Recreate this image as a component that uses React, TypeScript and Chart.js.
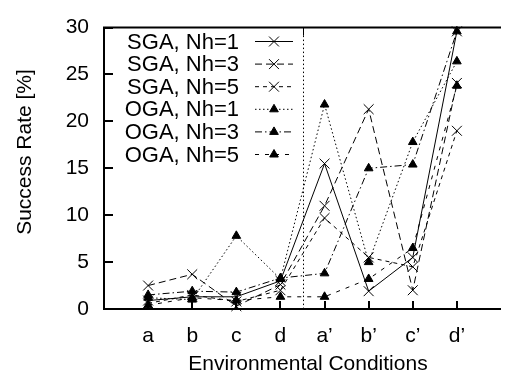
import React, { useEffect, useRef } from 'react';
import { Chart, registerables } from 'chart.js';

Chart.register(...registerables);

const categories = ['a', 'b', 'c', 'd', 'a’', 'b’', 'c’', 'd’'];
const yTickValues = [0, 5, 10, 15, 20, 25, 30];
const separatorAt = 4.5;

const sgaNh1 = [0.9, 1.3, 1.3, 3.0, 15.5, 1.9, 5.5, 29.6];
const sgaNh3 = [2.5, 3.7, 0.3, 2.6, 11.0, 21.3, 2.0, 24.1];
const sgaNh5 = [0.6, 1.5, 0.8, 2.0, 9.7, 5.5, 4.5, 19.0];
const ogaNh1 = [1.2, 1.0, 7.8, 3.2, 21.8, 5.0, 17.8, 26.4];
const ogaNh3 = [1.5, 1.9, 1.8, 3.3, 3.8, 15.0, 15.4, 29.6];
const ogaNh5 = [0.4, 1.2, 0.9, 1.3, 1.3, 3.2, 6.5, 23.8];

const FONT = 'Liberation Sans, Arial, Helvetica, sans-serif';

const pts = (arr: number[]) => arr.map((v, i) => ({ x: i + 1, y: v }));

function mk(label: string, data: number[], dash: number[], style: string) {
  const tri = style === 'triangle';
  return {
    label,
    data: pts(data),
    borderColor: '#000',
    backgroundColor: '#000',
    borderWidth: 1,
    borderDash: dash,
    pointStyle: style,
    pointRadius: tri ? 5 : 7,
    pointBorderWidth: 1,
    pointBackgroundColor: '#000',
    pointBorderColor: '#000',
    fill: false,
    tension: 0,
    clip: false,
  };
}

function drawMarker(ctx: CanvasRenderingContext2D, style: string, x: number, y: number) {
  ctx.save();
  ctx.setLineDash([]);
  ctx.lineWidth = 1;
  ctx.strokeStyle = '#000';
  ctx.fillStyle = '#000';
  if (style === 'triangle') {
    const r = 5;
    ctx.beginPath();
    for (let k = 0; k < 3; k++) {
      const a = (k * 2 * Math.PI) / 3;
      const px = x + Math.sin(a) * r;
      const py = y - Math.cos(a) * r;
      if (k === 0) ctx.moveTo(px, py);
      else ctx.lineTo(px, py);
    }
    ctx.closePath();
    ctx.fill();
    ctx.stroke();
  } else {
    const d = 7 * Math.SQRT1_2;
    ctx.beginPath();
    ctx.moveTo(x - d, y - d);
    ctx.lineTo(x + d, y + d);
    ctx.moveTo(x - d, y + d);
    ctx.lineTo(x + d, y - d);
    ctx.stroke();
  }
  ctx.restore();
}

const decorPlugin = {
  id: 'decor',
  beforeDatasetsDraw(chart: any) {
    const { ctx, chartArea, scales } = chart;
    const { top, bottom } = chartArea;
    const sx = Math.round(scales.x.getPixelForValue(separatorAt)) + 0.5;
    ctx.save();
    ctx.strokeStyle = '#000';
    ctx.lineWidth = 1;
    ctx.setLineDash([1.5, 2.5]);
    ctx.beginPath();
    ctx.moveTo(sx, top);
    ctx.lineTo(sx, bottom);
    ctx.stroke();
    ctx.setLineDash([]);
    ctx.beginPath();
    ctx.moveTo(sx, top);
    ctx.lineTo(sx, top + 8);
    ctx.stroke();
    ctx.restore();
  },
  afterDatasetsDraw(chart: any) {
    const { ctx, chartArea, scales } = chart;
    const { left, right, top, bottom } = chartArea;
    ctx.save();
    ctx.setLineDash([]);
    ctx.strokeStyle = '#000';
    ctx.lineWidth = 2;
    // frame
    ctx.beginPath();
    ctx.moveTo(right, top);
    ctx.lineTo(left, top);
    ctx.lineTo(left, bottom);
    ctx.lineTo(right, bottom);
    ctx.stroke();
    // inward ticks
    ctx.lineWidth = 2;
    ctx.beginPath();
    yTickValues.forEach((v) => {
      const py = Math.round(scales.y.getPixelForValue(v));
      ctx.moveTo(left, py);
      ctx.lineTo(left + 9, py);
    });
    categories.forEach((_, i) => {
      const px = Math.round(scales.x.getPixelForValue(i + 1));
      ctx.moveTo(px, bottom);
      ctx.lineTo(px, bottom - 8);
    });
    ctx.stroke();

    // legend
    const ds = chart.data.datasets;
    ctx.font = `22px ${FONT}`;
    ctx.fillStyle = '#000';
    ctx.textAlign = 'right';
    ctx.textBaseline = 'alphabetic';
    ds.forEach((d: any, i: number) => {
      const base = 48.5 + i * 22.6;
      ctx.fillText(d.label, 239, base);
      const cy = base - 7;
      ctx.save();
      ctx.lineWidth = 1;
      ctx.setLineDash(d.borderDash || []);
      ctx.beginPath();
      ctx.moveTo(255, cy);
      ctx.lineTo(293, cy);
      ctx.stroke();
      ctx.restore();
      drawMarker(ctx, d.pointStyle, 274, cy);
    });

    // axis titles
    ctx.font = `21px ${FONT}`;
    ctx.textAlign = 'center';
    ctx.textBaseline = 'middle';
    ctx.fillText('Environmental Conditions', 308, 364);
    ctx.translate(25, 152);
    ctx.rotate(-Math.PI / 2);
    ctx.fillText('Success Rate [%]', 0, 0);
    ctx.restore();
  },
};

export default function App() {
  const ref = useRef<HTMLCanvasElement | null>(null);
  useEffect(() => {
    if (!ref.current) return;
    const chart = new Chart(ref.current, {
      type: 'line',
      data: {
        datasets: [
          mk('SGA, Nh=1', sgaNh1, [], 'crossRot'),
          mk('SGA, Nh=3', sgaNh3, [7, 4], 'crossRot'),
          mk('SGA, Nh=5', sgaNh5, [4, 4], 'crossRot'),
          mk('OGA, Nh=1', ogaNh1, [1.5, 2.5], 'triangle'),
          mk('OGA, Nh=3', ogaNh3, [7, 3, 1.5, 3], 'triangle'),
          mk('OGA, Nh=5', ogaNh5, [4, 6], 'triangle'),
        ] as any,
      },
      options: {
        responsive: false,
        animation: false,
        layout: { padding: { top: 18, right: 0, left: 0, bottom: 0 } },
        plugins: { legend: { display: false }, tooltip: { enabled: false } },
        scales: {
          x: {
            type: 'linear',
            min: 0,
            max: categories.length + 1,
            afterFit: (s: any) => { s.height = 70; },
            afterBuildTicks: (s: any) => {
              s.ticks = categories.map((_, i) => ({ value: i + 1 }));
            },
            ticks: {
              autoSkip: false,
              maxRotation: 0,
              padding: 15,
              color: '#000',
              font: { family: FONT, size: 21 },
              callback: (v: any) => categories[Number(v) - 1] ?? '',
            },
            grid: { display: false, drawTicks: false },
            border: { display: false },
          },
          y: {
            type: 'linear',
            min: yTickValues[0],
            max: yTickValues[yTickValues.length - 1],
            afterFit: (s: any) => { s.width = 104; },
            afterBuildTicks: (s: any) => {
              s.ticks = yTickValues.map((v) => ({ value: v }));
            },
            ticks: {
              padding: 15,
              color: '#000',
              font: { family: FONT, size: 21 },
            },
            grid: { display: false, drawTicks: false },
            border: { display: false },
          },
        },
      } as any,
      plugins: [decorPlugin],
    });
    return () => chart.destroy();
  }, []);
  return (
    <div style={{ position: 'fixed', left: 0, top: 0, width: 509, height: 379, background: '#fff' }}>
      <canvas ref={ref} width={509} height={379} style={{ display: 'block' }} />
    </div>
  );
}
